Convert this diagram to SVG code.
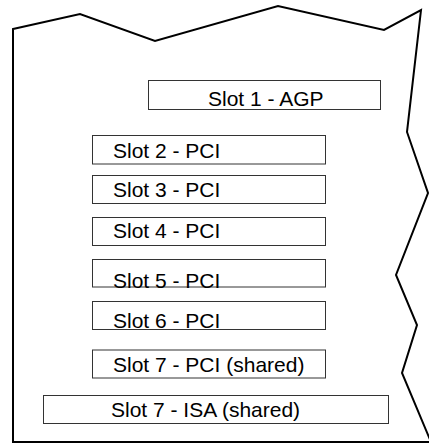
<svg xmlns="http://www.w3.org/2000/svg" width="429" height="445" viewBox="0 0 429 445">
<style>
.slot rect{fill:#fff;stroke:#333;stroke-width:1}
.slot text{font-family:"Liberation Sans",Arial,sans-serif;font-size:21px;fill:#000}
.board{fill:#fff;stroke:#000;stroke-width:2;stroke-linejoin:miter}
</style>
<g id="board">
<polygon class="board" points="13,29 80,14 155,41 278,6 384,30 421,10 407,132 428,193 396,275 417,325 402,373 431,442 13,442"/>
</g>
<g id="connectors"></g>
<g id="slot1" class="slot"><rect x="148.5" y="80.5" width="232" height="29"/><text x="208" y="106">Slot 1 - AGP</text></g>
<g id="slot2" class="slot"><rect x="92.5" y="135.5" width="233" height="28.5"/><text x="113" y="157.5">Slot 2 - PCI</text></g>
<g id="slot3" class="slot"><rect x="92.5" y="175.5" width="233" height="28"/><text x="113" y="196.5">Slot 3 - PCI</text></g>
<g id="slot4" class="slot"><rect x="92.5" y="217.5" width="233" height="28"/><text x="113" y="237.5">Slot 4 - PCI</text></g>
<g id="slot5" class="slot"><rect x="92.5" y="259.5" width="233" height="27.5"/><text x="113" y="287.5">Slot 5 - PCI</text></g>
<g id="slot6" class="slot"><rect x="92.5" y="301.5" width="233" height="28"/><text x="113" y="327.5">Slot 6 - PCI</text></g>
<g id="slot7pci" class="slot"><rect x="92.5" y="350" width="233" height="28"/><text x="113" y="371.5">Slot 7 - PCI (shared)</text></g>
<g id="slot7isa" class="slot"><rect x="43.5" y="395.5" width="345" height="28"/><text x="111" y="416.5">Slot 7 - ISA (shared)</text></g>
</svg>
